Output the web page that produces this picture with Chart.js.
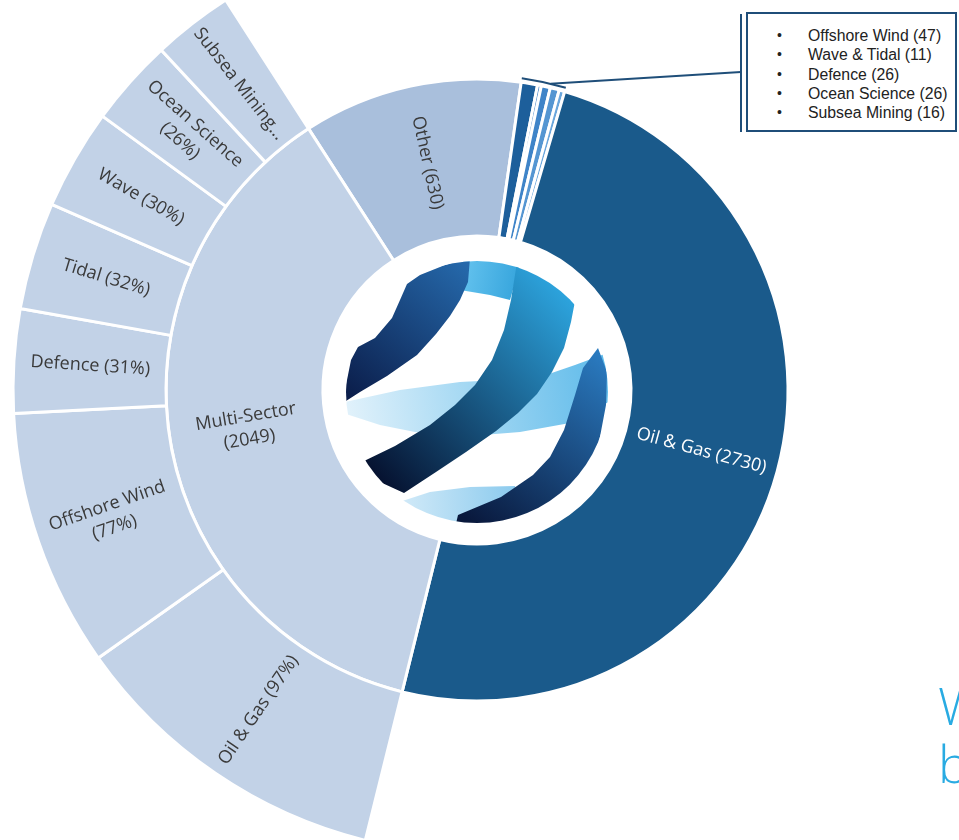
<!DOCTYPE html>
<html>
<head>
<meta charset="utf-8">
<script src="https://cdn.jsdelivr.net/npm/chart.js@4.4.1/dist/chart.umd.min.js"></script>
<style>
  html, body { margin: 0; padding: 0; background: #fff; }
  #wrap { position: relative; width: 959px; height: 840px; overflow: hidden; }
  #chart { position: absolute; left: 0; top: 0; }
  .callout {
    position: absolute; left: 746px; top: 12px; width: 211px; height: 120px;
    border: 2px solid #1f4e79; box-sizing: border-box;
    background: #fff; font-family: "Liberation Sans", Arial, sans-serif; font-size: 15.8px; color: #222;
  }
  .callout ul { list-style: none; margin: 0; padding: 12px 0 0 0; }
  .callout li { position: relative; height: 19.3px; line-height: 19.3px; padding-left: 60px; white-space: nowrap; }
  .callout li::before { content: "\2022"; position: absolute; left: 29px; font-size: 14px; }
  .callout-bar { position: absolute; left: 740px; top: 14px; width: 2px; height: 118px; background: #1f4e79; }
  .side-text {
    position: absolute; left: 938px; top: 676px; font-family: "Open Sans", sans-serif; font-weight: 300;
    font-size: 52px; line-height: 58px; color: #29abe2;
  }
</style>
</head>
<body>
<div id="wrap">
  <canvas id="chart" width="959" height="840"></canvas>
  <div class="callout-bar"></div>
  <div class="callout"><ul id="calloutList"></ul></div>
  <div class="side-text">W<br>b</div>
</div>
<script>
// inner ring (sectors)
const mainLabels = ["Other", "Offshore Wind", "Wave & Tidal", "Defence", "Ocean Science", "Subsea Mining", "Oil & Gas", "Multi-Sector"];
const mainValues = [630, 47, 11, 26, 26, 16, 2730, 2049];
// outer ring (breakdown of Multi-Sector, %)
const subLabels = ["Oil & Gas", "Offshore Wind", "Defence", "Tidal", "Wave", "Ocean Science", "Subsea Mining"];
const subValues = [97, 77, 31, 32, 30, 26, 24];

const mainColors = ["#a9bfdc", "#1d5f9b", "#4a88c8", "#3f84c8", "#5596d2", "#6aa6dc", "#1a5a8b", "#c2d2e7"];
const mainTextColors = ["#3a3a3a", null, null, null, null, null, "#ffffff", "#3a3a3a"];
const wrapNames = ["Multi-Sector", "Offshore Wind", "Ocean Science"];
const truncNames = ["Subsea Mining"];

// callout list for the small sectors
const smallIdx = mainValues.map((v, i) => i).filter(i => mainValues[i] < 100);
document.getElementById("calloutList").innerHTML = smallIdx
  .map(i => `<li>${mainLabels[i].replace("&", "&amp;")} (${mainValues[i]})</li>`).join("");

const total = mainValues.reduce((a, b) => a + b, 0);
const mainRotation = -32.8;
const multiIdx = mainLabels.indexOf("Multi-Sector");
const beforeMulti = mainValues.slice(0, multiIdx).reduce((a, b) => a + b, 0);
const multiStart = mainRotation + beforeMulti / total * 360;
const multiSpan = mainValues[multiIdx] / total * 360;

function drawLabel(ctx, el, lines, color) {
  const mid = (el.startAngle + el.endAngle) / 2;
  const r = (el.innerRadius + el.outerRadius) / 2;
  const x = el.x + Math.cos(mid) * r;
  const y = el.y + Math.sin(mid) * r;
  let rot = Math.atan2(Math.sin(mid + Math.PI), Math.cos(mid + Math.PI));
  if (rot > Math.PI / 2) rot -= Math.PI;
  if (rot < -Math.PI / 2) rot += Math.PI;
  ctx.save();
  ctx.translate(x, y);
  ctx.rotate(rot);
  ctx.fillStyle = color;
  ctx.font = "18px 'Open Sans', sans-serif";
  ctx.textAlign = "center";
  ctx.textBaseline = "middle";
  const lh = 23;
  lines.forEach((t, i) => ctx.fillText(t, 0, (i - (lines.length - 1) / 2) * lh));
  ctx.restore();
}

function labelLines(name, valueText) {
  if (truncNames.includes(name)) return [name + "..."];
  if (wrapNames.includes(name)) return [name, valueText];
  return [name + " " + valueText];
}

// logo pieces, drawn in a frame where the ring centre sits at (477, 390)
function band(ctx, pts, c1, c2, from, to) {
  const g = ctx.createLinearGradient(from[0], from[1], to[0], to[1]);
  g.addColorStop(0, c1);
  g.addColorStop(1, c2);
  ctx.fillStyle = g;
  ctx.beginPath();
  pts.forEach((p, i) => i ? ctx.lineTo(p[0], p[1]) : ctx.moveTo(p[0], p[1]));
  ctx.closePath();
  ctx.fill();
}

function drawLogo(ctx) {
  ctx.beginPath();
  ctx.arc(477, 392, 131, 0, Math.PI * 2);
  ctx.clip();
  // light middle band
  band(ctx, [[340, 403], [400, 390], [460, 382], [500, 380], [543, 376], [575, 365], [610, 352],
    [612, 400], [570, 423], [520, 432], [470, 436], [420, 433], [380, 425], [340, 412]],
    "#e2f2fb", "#5fbbea", [345, 410], [605, 370]);
  // light bottom band
  band(ctx, [[390, 505], [430, 492], [470, 487], [515, 486], [520, 512], [470, 520], [430, 526], [400, 520]],
    "#d2eaf8", "#8ccbee", [400, 505], [515, 500]);
  // light top band
  band(ctx, [[462, 258], [490, 260], [520, 265], [510, 300], [490, 295], [460, 290]],
    "#63c2ee", "#35a4dc", [462, 275], [520, 285]);
  // dark upper-left band
  band(ctx, [[340, 405], [346, 385], [351, 360], [358, 347], [375, 338], [392, 318], [400, 300],
    [407, 284], [420, 275], [445, 265], [470, 258], [468, 282], [460, 300], [450, 316], [436, 334],
    [417, 355], [387, 376], [360, 392]],
    "#0b1d4a", "#2568aa", [350, 400], [465, 265]);
  // big diagonal band
  band(ctx, [[517, 262], [576, 296], [571, 322], [564, 348], [552, 372], [537, 394], [518, 413], [496, 431],
    [466, 452], [436, 472], [404, 493], [380, 482], [362, 462], [395, 446], [430, 425], [455, 405],
    [475, 385], [492, 360], [504, 330], [511, 300]],
    "#061230", "#2da6e0", [372, 472], [568, 290]);
  // dark lower-right band
  band(ctx, [[598, 348], [607, 372], [606, 405], [599, 442], [579, 483], [539, 513], [494, 524], [455, 528],
    [458, 515], [501, 497], [533, 475], [550, 457], [564, 430], [575, 395], [583, 368]],
    "#09183c", "#2a7abf", [470, 522], [600, 355]);
}

const sunburstPlugin = {
  id: "sunburst",
  afterDatasetsDraw(chart) {
    const ctx = chart.ctx;
    const outer = chart.getDatasetMeta(0).data;
    const inner = chart.getDatasetMeta(1).data;
    const cx = inner[0].x, cy = inner[0].y;

    // centre logo
    ctx.save();
    ctx.translate(cx - 477, cy - 390);
    drawLogo(ctx);
    ctx.restore();

    // labels
    outer.forEach((el, i) => {
      drawLabel(ctx, el, labelLines(subLabels[i], "(" + subValues[i] + "%)"), "#3a3a3a");
    });
    inner.forEach((el, i) => {
      if (!mainTextColors[i]) return;
      drawLabel(ctx, el, labelLines(mainLabels[i], "(" + mainValues[i] + ")"), mainTextColors[i]);
    });

    // bracket over the small sectors + leader line to the callout
    const a0 = inner[smallIdx[0]].startAngle;
    const a1 = inner[smallIdx[smallIdx.length - 1]].endAngle;
    const rb = inner[0].outerRadius + 4;
    ctx.save();
    ctx.strokeStyle = "#1f4e79";
    ctx.lineWidth = 2;
    ctx.beginPath();
    ctx.arc(cx, cy, rb, a0, a1);
    ctx.stroke();
    const am = a0 + (a1 - a0) * 0.65;
    ctx.beginPath();
    ctx.moveTo(cx + Math.cos(am) * rb, cy + Math.sin(am) * rb);
    ctx.lineTo(741, 72);
    ctx.stroke();
    ctx.restore();
  }
};

new Chart(document.getElementById("chart"), {
  type: "doughnut",
  data: {
    labels: mainLabels,
    datasets: [
      {
        data: subValues,
        rotation: multiStart,
        circumference: multiSpan,
        weight: 153,
        backgroundColor: "#c2d2e7",
        borderColor: "#ffffff",
        borderWidth: 3,
        clip: false
      },
      {
        data: mainValues,
        rotation: mainRotation,
        circumference: 360,
        weight: 157,
        backgroundColor: mainColors,
        borderColor: "#ffffff",
        borderWidth: 3,
        clip: false
      }
    ]
  },
  options: {
    responsive: false,
    animation: false,
    radius: 464,
    cutout: (154 / 464 * 100) + "%",
    layout: { padding: { left: 0, right: 5, top: 0, bottom: 60 } },
    plugins: {
      legend: { display: false },
      tooltip: { enabled: false }
    }
  },
  plugins: [sunburstPlugin]
});
</script>
</body>
</html>
